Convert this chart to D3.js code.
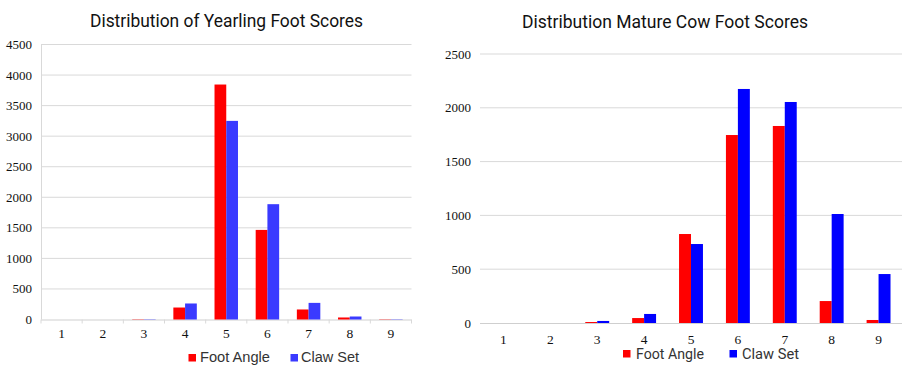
<!DOCTYPE html>
<html><head><meta charset="utf-8">
<script src="https://cdn.jsdelivr.net/npm/d3@7"></script>
<style>body{margin:0;background:#fff}svg{display:block}</style>
</head><body><svg id="c" width="917" height="371"></svg>
<script>
const categories = ["1","2","3","4","5","6","7","8","9"];
const seriesNames = ["Foot Angle","Claw Set"];
const yearlingFootAngle = [0, 0, 5, 196, 3845, 1466, 164, 33, 5];
const yearlingClawSet   = [0, 0, 5, 262, 3250, 1887, 272, 49, 5];
const cowFootAngle = [0, 0, 9, 46, 827, 1747, 1831, 204, 28];
const cowClawSet   = [0, 0, 19, 84, 734, 2175, 2054, 1013, 455];
const yearlingTicks = [0,500,1000,1500,2000,2500,3000,3500,4000,4500];
const cowTicks = [0,500,1000,1500,2000,2500];

const svg = d3.select("#c");

function chart(o){
  const g = svg.append("g");
  const x = d3.scaleBand().domain(categories).range([o.x0,o.x1]);
  const y = d3.scaleLinear().domain([0,o.max]).range([o.y0,o.y1]);
  g.selectAll(".grid").data(o.ticks.filter(t=>t>0)).join("line")
    .attr("x1",o.x0).attr("x2",o.x1).attr("y1",d=>y(d)).attr("y2",d=>y(d))
    .attr("stroke","#d9d9d9").attr("stroke-width",1);
  g.selectAll(".yl").data(o.ticks).join("text")
    .attr("x",o.ylx).attr("y",d=>y(d)).attr("dy","0.35em")
    .attr("text-anchor","end").attr("font-family","Liberation Serif")
    .attr("font-size",13).attr("fill","#111").text(d=>d);
  g.append("line").attr("x1",o.x0).attr("x2",o.x1).attr("y1",y(0)+0.5).attr("y2",y(0)+0.5)
    .attr("stroke","#cfcfcf");
  if(o.yaxis){
    g.append("line").attr("x1",o.x0+0.5).attr("x2",o.x0+0.5).attr("y1",y(0)).attr("y2",y(o.max))
      .attr("stroke","#d9d9d9");
    g.selectAll(".xt").data(d3.range(categories.length+1)).join("line")
      .attr("x1",i=>o.x0+i*x.step()).attr("x2",i=>o.x0+i*x.step())
      .attr("y1",y(0)).attr("y2",y(0)+4).attr("stroke","#d9d9d9");
  }
  const bw = x.bandwidth()*o.frac/2;
  [o.a,o.b].forEach((vals,si)=>{
    g.selectAll(".b"+si).data(vals).join("rect")
      .attr("x",(d,i)=>x(categories[i])+x.bandwidth()/2 - bw + si*bw)
      .attr("width",bw)
      .attr("y",d=>y(d)).attr("height",d=>y(0)-y(d))
      .attr("fill",o.colors[si]);
  });
  g.selectAll(".xl").data(categories).join("text")
    .attr("x",d=>x(d)+x.bandwidth()/2).attr("y",o.xly).attr("dy","0.35em")
    .attr("text-anchor","middle").attr("font-family","Liberation Serif")
    .attr("font-size",13.5).attr("fill","#111").text(d=>d);
  g.append("text").attr("x",o.tx).attr("y",o.ty).attr("text-anchor","middle")
    .attr("font-family",o.tfont).attr("font-size",o.tsize).attr("fill","#111")
    .attr("textLength",o.tlen).attr("lengthAdjust","spacingAndGlyphs")
    .text(o.title);
  o.leg.forEach((l,i)=>{
    g.append("rect").attr("x",l.sx).attr("y",o.legy-3.5).attr("width",7.5).attr("height",7.5)
      .attr("fill",o.colors[i]);
    g.append("text").attr("x",l.tx).attr("y",o.legy).attr("dy","0.35em")
      .attr("font-family",o.lfont).attr("font-size",o.lsize).attr("fill","#333")
      .attr("textLength",l.len).attr("lengthAdjust","spacingAndGlyphs")
      .text(seriesNames[i]);
  });
}

chart({x0:41,x1:411.5,y0:319.5,y1:44.5,max:4500,ticks:yearlingTicks,ylx:32,xly:333,
  a:yearlingFootAngle,b:yearlingClawSet,colors:["#ff0000","#3a3aff"],frac:0.57,yaxis:true,
  title:"Distribution of Yearling Foot Scores",tx:226.5,ty:27,tsize:18.5,tlen:273,tfont:"Roboto",
  legy:357.5,lfont:"Liberation Sans",lsize:14,
  leg:[{sx:188.5,tx:200,len:70},{sx:290.5,tx:301,len:58}]});

chart({x0:480,x1:902,y0:323,y1:54,max:2500,ticks:cowTicks,ylx:471,xly:339,
  a:cowFootAngle,b:cowClawSet,colors:["#ff0000","#0000ff"],frac:0.51,yaxis:false,
  title:"Distribution Mature Cow Foot Scores",tx:665,ty:28,tsize:18.5,tlen:286,tfont:"Roboto",
  legy:353.5,lfont:"Roboto",lsize:15.5,
  leg:[{sx:623,tx:636,len:68},{sx:729.5,tx:742,len:57}]});
</script></body></html>
